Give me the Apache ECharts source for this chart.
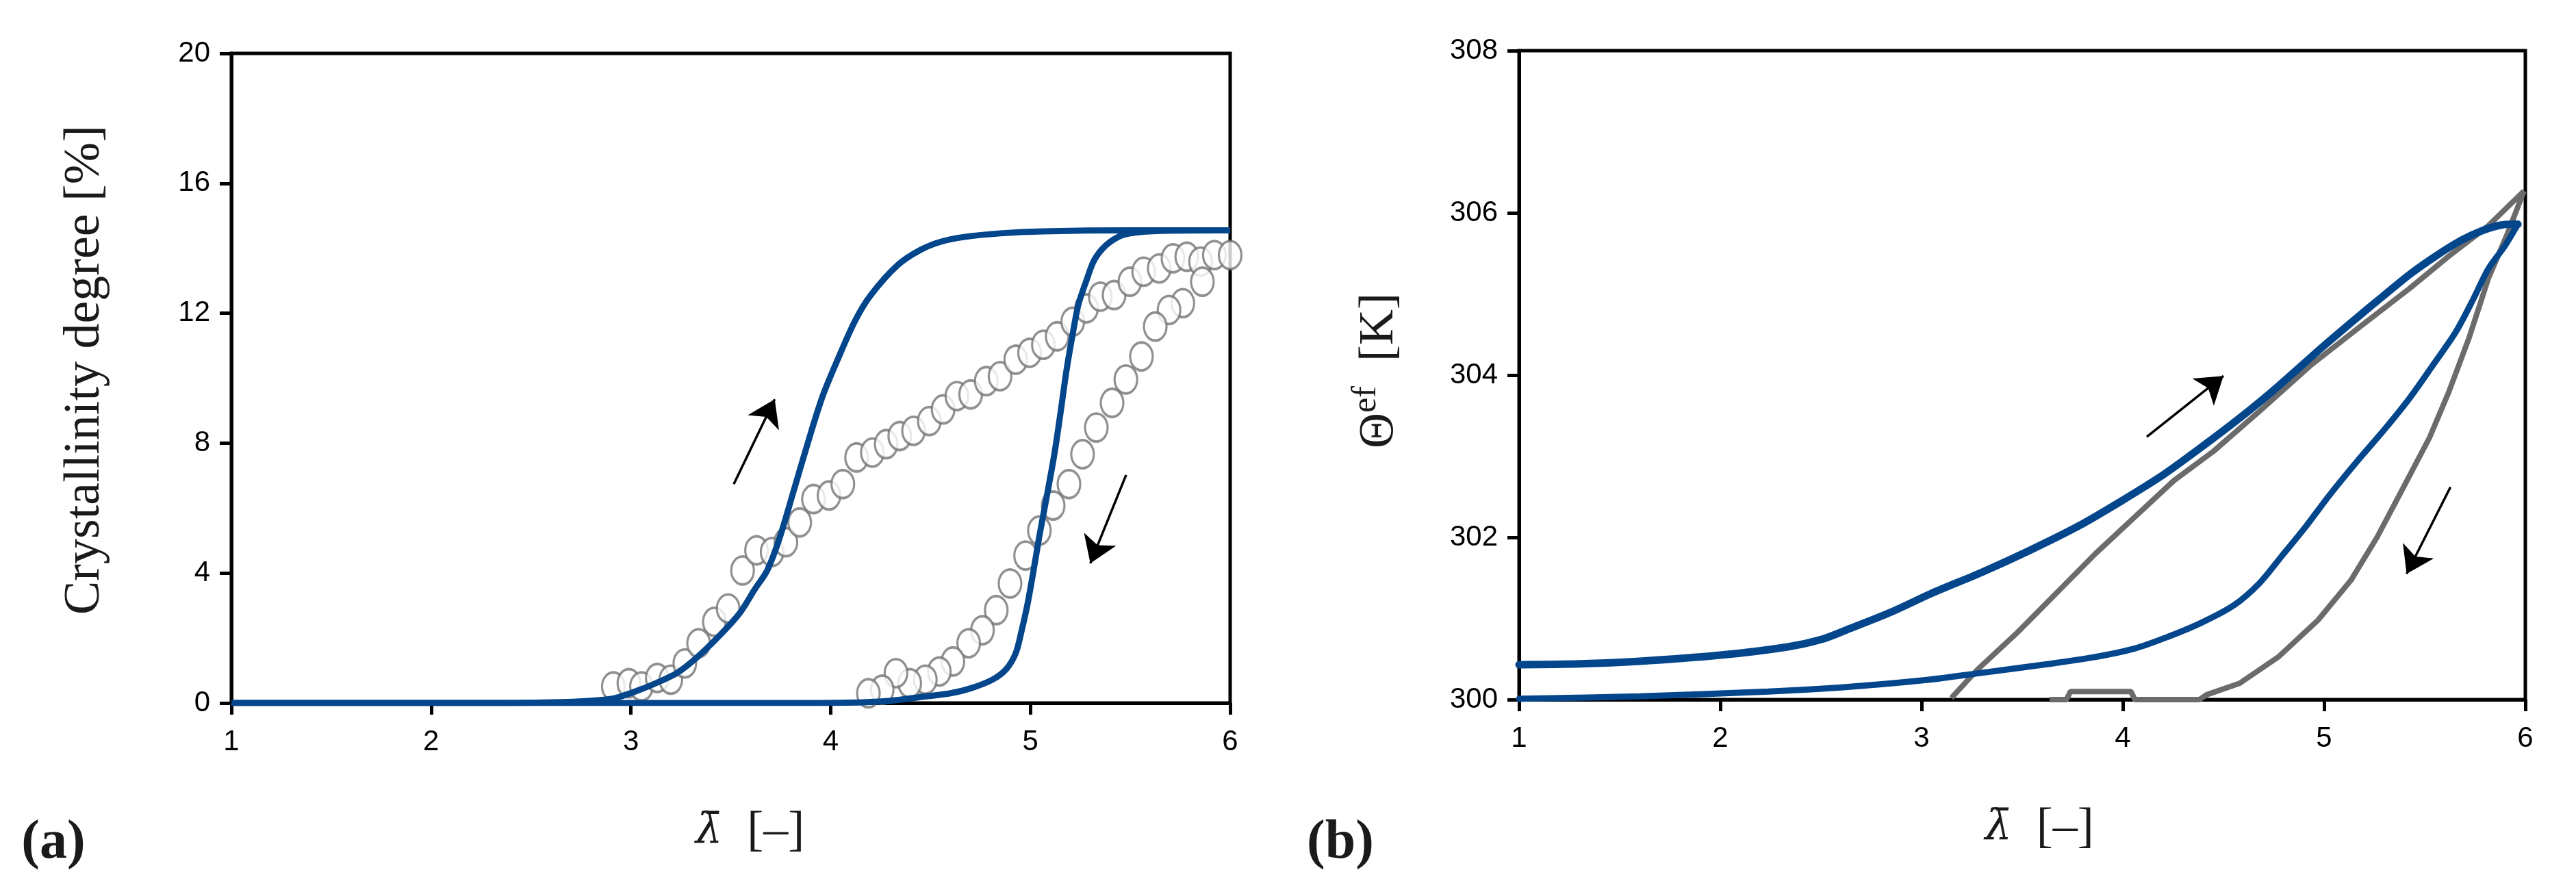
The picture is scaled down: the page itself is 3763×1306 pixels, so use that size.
<!DOCTYPE html>
<html><head><meta charset="utf-8">
<script src="https://cdn.jsdelivr.net/npm/echarts@6/dist/echarts.min.js"></script>
<style>html,body{margin:0;padding:0;background:#fff}#c{width:3763px;height:1306px}</style>
</head><body><div id="c"></div>
<script>
// ---- tick labels ----
const xTicks = [1, 2, 3, 4, 5, 6];
const yTicksA = [0, 4, 8, 12, 16, 20];
const yTicksB = [300, 302, 304, 306, 308];

// ---- panel (a): crystallinity degree [%] vs stretch ----
const simLoadA = [[1,0],[2.3,0],[2.6,0.02],[2.8,0.07],[2.92,0.15],[3.05,0.42],[3.15,0.68],[3.23,0.92],[3.33,1.4],[3.44,2.05],[3.544,2.76],[3.62,3.5],[3.683,4.09],[3.746,5.11],[3.82,6.64],[3.9,8.3],[3.96,9.45],[4.03,10.5],[4.12,11.74],[4.2,12.55],[4.337,13.49],[4.45,13.95],[4.55,14.2],[4.67,14.35],[4.85,14.46],[5.065,14.52],[5.5,14.55],[6,14.55]];
const simUnloadA = [[6,14.55],[5.7,14.54],[5.55,14.5],[5.458,14.4],[5.38,14.1],[5.32,13.64],[5.28,13.0],[5.24,12.26],[5.21,11.3],[5.18,10.21],[5.15,8.9],[5.12,7.66],[5.08,6.3],[5.044,5.11],[5.015,4.05],[4.986,3.06],[4.955,2.2],[4.927,1.54],[4.88,1.05],[4.81,0.72],[4.7,0.45],[4.6,0.3],[4.47,0.2],[4.3,0.07],[4.08,0.01],[3.8,0],[1,0]];
const expLoadA = [[2.912,0.51],[2.99,0.61],[3.053,0.51],[3.132,0.77],[3.2,0.72],[3.27,1.22],[3.339,1.84],[3.418,2.5],[3.487,2.91],[3.559,4.08],[3.629,4.7],[3.707,4.65],[3.776,4.95],[3.845,5.56],[3.914,6.28],[3.992,6.39],[4.061,6.74],[4.13,7.56],[4.209,7.71],[4.278,7.97],[4.346,8.22],[4.415,8.38],[4.494,8.68],[4.563,9.04],[4.632,9.45],[4.701,9.5],[4.779,9.91],[4.848,10.06],[4.927,10.57],[4.996,10.78],[5.065,11.03],[5.134,11.29],[5.212,11.74],[5.281,12.15],[5.35,12.51],[5.419,12.56],[5.498,12.97],[5.567,13.28],[5.645,13.38],[5.714,13.69],[5.783,13.74],[5.852,13.59],[5.921,13.79],[6.0,13.79]];
const expUnloadA = [[5.861,12.97],[5.763,12.31],[5.694,12.1],[5.625,11.59],[5.556,10.67],[5.478,9.96],[5.409,9.24],[5.33,8.48],[5.261,7.66],[5.193,6.74],[5.114,6.08],[5.045,5.31],[4.976,4.54],[4.898,3.68],[4.829,2.86],[4.76,2.24],[4.691,1.84],[4.612,1.28],[4.544,0.97],[4.474,0.72],[4.396,0.61],[4.327,0.92],[4.258,0.41],[4.189,0.3]];
const arrowsA = [[[3.515,6.74],[3.72,9.35]], [[5.479,7.02],[5.30,4.3]]];

// ---- panel (b): effective temperature [K] vs stretch ----
const simLoadB = [[1,300.43],[1.3,300.44],[1.586,300.47],[2.009,300.55],[2.335,300.65],[2.5,300.74],[2.628,300.86],[2.85,301.08],[3.05,301.31],[3.3,301.57],[3.538,301.84],[3.78,302.14],[3.994,302.45],[4.2,302.77],[4.384,303.1],[4.57,303.45],[4.743,303.8],[5.003,304.37],[5.15,304.68],[5.296,304.98],[5.43,305.25],[5.556,305.47],[5.68,305.66],[5.784,305.78],[5.88,305.85],[5.963,305.86]];
const simUnloadB = [[5.963,305.86],[5.9,305.6],[5.816,305.31],[5.74,304.93],[5.654,304.53],[5.54,304.12],[5.426,303.72],[5.3,303.33],[5.165,302.94],[5.03,302.53],[4.905,302.12],[4.79,301.77],[4.677,301.43],[4.55,301.16],[4.384,300.94],[4.22,300.77],[4.059,300.63],[3.85,300.52],[3.604,300.43],[3.3,300.33],[3.018,300.24],[2.6,300.15],[2.237,300.1],[1.6,300.04],[1,300.01]];
const expLoadB = [[3.148,300.02],[3.278,300.37],[3.473,300.82],[3.701,301.39],[3.864,301.8],[4.059,302.25],[4.254,302.7],[4.45,303.06],[4.677,303.55],[4.938,304.13],[5.165,304.57],[5.426,305.07],[5.621,305.47],[5.816,305.84],[5.993,306.27]];
const expUnloadB = [[5.993,306.27],[5.914,305.76],[5.816,305.19],[5.719,304.45],[5.621,303.8],[5.524,303.23],[5.393,302.61],[5.263,302.0],[5.133,301.47],[4.97,300.98],[4.775,300.53],[4.58,300.2],[4.417,300.06],[4.38,300.0],[4.06,300.0],[4.04,300.1],[3.74,300.1],[3.72,300.0],[3.636,300.0]];
const arrowsB = [[[4.119,303.24],[4.50,303.99]], [[5.628,302.62],[5.41,301.55]]];

// ---- styling ----
const BLUE = '#03468B';
const GRAY = '#747474';
const SANS = 'Liberation Sans, Arial, sans-serif';
const SERIF = 'Liberation Serif, Times New Roman, serif';
const ELLIPSE = 'path://M0,20A16,20 0 1,1 32,20A16,20 0 1,1 0,20Z';
const lamRich = {
  l: { fontFamily: 'DejaVu Serif', fontStyle: 'italic', fontSize: 62, color: '#1a1a1a' },
  t: { fontFamily: SERIF, fontSize: 72, color: '#1a1a1a' }
};

function xAxisCfg(gridIndex, namePad) {
  return {
    type: 'value', gridIndex,
    min: xTicks[0], max: xTicks[xTicks.length - 1], interval: xTicks[1] - xTicks[0],
    name: '{l|λ\u0304}{t|  [–]}', nameLocation: 'middle', nameGap: 152,
    nameTextStyle: { fontFamily: SERIF, fontSize: 72, color: '#1a1a1a', padding: [0, 0, 0, namePad], rich: lamRich },
    axisLine: { show: true, onZero: false, lineStyle: { color: '#000', width: 5 } },
    axisTick: { show: true, length: 17, lineStyle: { color: '#000', width: 5 } },
    axisLabel: { margin: 36, fontSize: 42, fontFamily: SANS, color: '#000' },
    splitLine: { show: false }
  };
}
function yAxisCfg(gridIndex, ticks, name, nameGap, namePad, rich) {
  const cfg = {
    type: 'value', gridIndex,
    min: ticks[0], max: ticks[ticks.length - 1], interval: ticks[1] - ticks[0],
    name, nameLocation: 'middle', nameRotate: 90, nameGap,
    nameTextStyle: { fontFamily: SERIF, fontSize: 74, color: '#1a1a1a', padding: [0, 0, 0, namePad] },
    axisLine: { show: true, onZero: false, lineStyle: { color: '#000', width: 5 } },
    axisTick: { show: true, length: 17, lineStyle: { color: '#000', width: 5 } },
    axisLabel: { margin: 31, fontSize: 42, fontFamily: SANS, color: '#000' },
    splitLine: { show: false }
  };
  if (rich) cfg.nameTextStyle.rich = rich;
  return cfg;
}
function arrowMark(list) {
  return {
    silent: true, animation: false,
    symbol: ['none', 'arrow'], symbolSize: 38,
    lineStyle: { color: '#000', width: 3.5, type: 'solid' },
    label: { show: false },
    data: list.map(a => [{ coord: a[0] }, { coord: a[1] }])
  };
}

const chart = echarts.init(document.getElementById('c'), null, { renderer: 'canvas' });
chart.setOption({
  animation: false,
  backgroundColor: '#fff',
  grid: [
    { left: 338, top: 78, width: 1459, height: 949, show: true, borderColor: '#000', borderWidth: 5, backgroundColor: 'transparent' },
    { left: 2219, top: 74, width: 1470, height: 948, show: true, borderColor: '#000', borderWidth: 5, backgroundColor: 'transparent' }
  ],
  xAxis: [xAxisCfg(0, 56), xAxisCfg(1, 50)],
  yAxis: [
    yAxisCfg(0, yTicksA, 'Crystallinity degree [%]', 176, 24),
    yAxisCfg(1, yTicksB, '{t|Θ}{s|ef}{t|  [K]}', 168, 13, {
      t: { fontFamily: SERIF, fontSize: 72, color: '#1a1a1a', lineHeight: 80, verticalAlign: 'bottom' },
      s: { fontFamily: SERIF, fontSize: 50, color: '#1a1a1a', lineHeight: 50, verticalAlign: 'top' }
    })
  ],
  graphic: [
    { type: 'text', x: 78, y: 1232, style: { text: '(a)', font: 'bold 80px ' + SERIF, fill: '#1a1a1a', align: 'center', verticalAlign: 'middle' } },
    { type: 'text', x: 1958, y: 1232, style: { text: '(b)', font: 'bold 80px ' + SERIF, fill: '#1a1a1a', align: 'center', verticalAlign: 'middle' } }
  ],
  series: [
    { type: 'scatter', xAxisIndex: 0, yAxisIndex: 0, data: expLoadA, symbol: ELLIPSE, symbolSize: [33, 41],
      itemStyle: { color: '#fff', borderColor: GRAY, borderWidth: 3.5 }, z: 2 },
    { type: 'scatter', xAxisIndex: 0, yAxisIndex: 0, data: expUnloadA, symbol: ELLIPSE, symbolSize: [33, 41],
      itemStyle: { color: '#fff', borderColor: GRAY, borderWidth: 3.5 }, z: 2 },
    { type: 'line', xAxisIndex: 0, yAxisIndex: 0, data: simLoadA, showSymbol: false, smooth: 0.3,
      lineStyle: { color: BLUE, width: 9 }, z: 3, markLine: arrowMark(arrowsA) },
    { type: 'line', xAxisIndex: 0, yAxisIndex: 0, data: simUnloadA, showSymbol: false, smooth: 0.3,
      lineStyle: { color: BLUE, width: 9 }, z: 3 },
    { type: 'line', xAxisIndex: 1, yAxisIndex: 1, data: expLoadB, showSymbol: false,
      lineStyle: { color: '#6b6b6b', width: 8 }, z: 2 },
    { type: 'line', xAxisIndex: 1, yAxisIndex: 1, data: expUnloadB, showSymbol: false,
      lineStyle: { color: '#6b6b6b', width: 8 }, z: 2 },
    { type: 'line', xAxisIndex: 1, yAxisIndex: 1, data: simLoadB, showSymbol: false, smooth: 0.3,
      lineStyle: { color: BLUE, width: 11, cap: 'round' }, z: 3, markLine: arrowMark(arrowsB) },
    { type: 'line', xAxisIndex: 1, yAxisIndex: 1, data: simUnloadB, showSymbol: false, smooth: 0.3,
      lineStyle: { color: BLUE, width: 9, cap: 'round' }, z: 3 }
  ]
});
</script>
</body></html>
